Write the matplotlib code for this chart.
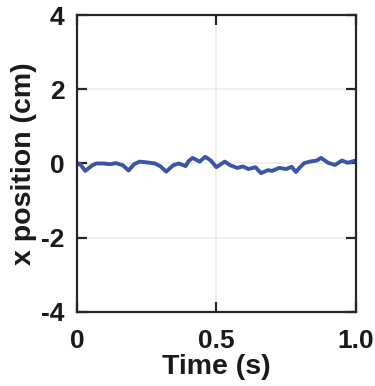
import matplotlib
matplotlib.use("Agg")
import matplotlib.pyplot as plt
import numpy as np

time_s = [0.0, 0.015, 0.03, 0.055, 0.07, 0.095, 0.12, 0.14, 0.165, 0.185, 0.205, 0.225, 0.26, 0.28, 0.3,
          0.32, 0.345, 0.365, 0.39, 0.4, 0.415, 0.44, 0.46, 0.48, 0.5, 0.53, 0.55, 0.575, 0.595, 0.615,
          0.64, 0.66, 0.685, 0.7, 0.725, 0.75, 0.77, 0.785, 0.8, 0.815, 0.835, 0.86, 0.875, 0.9, 0.925,
          0.95, 0.97, 1.0]
x_pos_cm = [0.02, -0.05, -0.2, -0.05, 0.0, 0.0, -0.02, 0.01, -0.05, -0.19, -0.02, 0.05, 0.02, 0.0, -0.08,
            -0.22, -0.05, 0.0, -0.07, 0.06, 0.15, 0.05, 0.18, 0.08, -0.1, 0.05, -0.05, -0.12, -0.08, -0.15,
            -0.1, -0.26, -0.18, -0.2, -0.12, -0.15, -0.09, -0.23, -0.1, 0.01, 0.05, 0.08, 0.15, 0.02,
            -0.04, 0.08, 0.02, 0.08]

xticks = [0, 0.5, 1.0]
xtick_labels = ["0", "0.5", "1.0"]
yticks = [-4, -2, 0, 2, 4]
ytick_labels = ["-4", "-2", "0", "2", "4"]

plt.rcParams['font.family'] = ['Liberation Sans', 'DejaVu Sans']
plt.rcParams['font.weight'] = 'bold'
plt.rcParams['axes.unicode_minus'] = False

fig = plt.figure(figsize=(3.75, 3.86), dpi=100)
ax = fig.add_axes([0.205, 0.192, 0.744, 0.769])
ax.plot(time_s, x_pos_cm, color='#3a55a6', lw=2.8, solid_joinstyle='round')
ax.set_xlim(0, 1)
ax.set_ylim(-4, 4)
ax.set_xticks(xticks)
ax.set_xticklabels(xtick_labels)
ax.set_yticks(yticks)
ax.set_yticklabels(ytick_labels)
ax.grid(True, color='#ededed', lw=1.2)
ax.set_axisbelow(True)
for s in ax.spines.values():
    s.set_linewidth(1.6)
    s.set_color('#262626')
ax.tick_params(direction='in', length=7, width=1.6, color='#262626', top=True, right=True,
               labelsize=19, labelcolor='#1a1a1a')
ax.tick_params(axis='x', pad=12)
ax.tick_params(axis='y', pad=9)
for lab in ax.get_xticklabels() + ax.get_yticklabels():
    lab.set_fontweight('bold')
ax.set_xlabel('Time (s)', fontsize=20.5, fontweight='bold', labelpad=1, color='#1a1a1a')
ax.set_ylabel('x position (cm)', fontsize=20.5, fontweight='bold', labelpad=3, color='#1a1a1a')
fig.savefig('out.png', dpi=100)
